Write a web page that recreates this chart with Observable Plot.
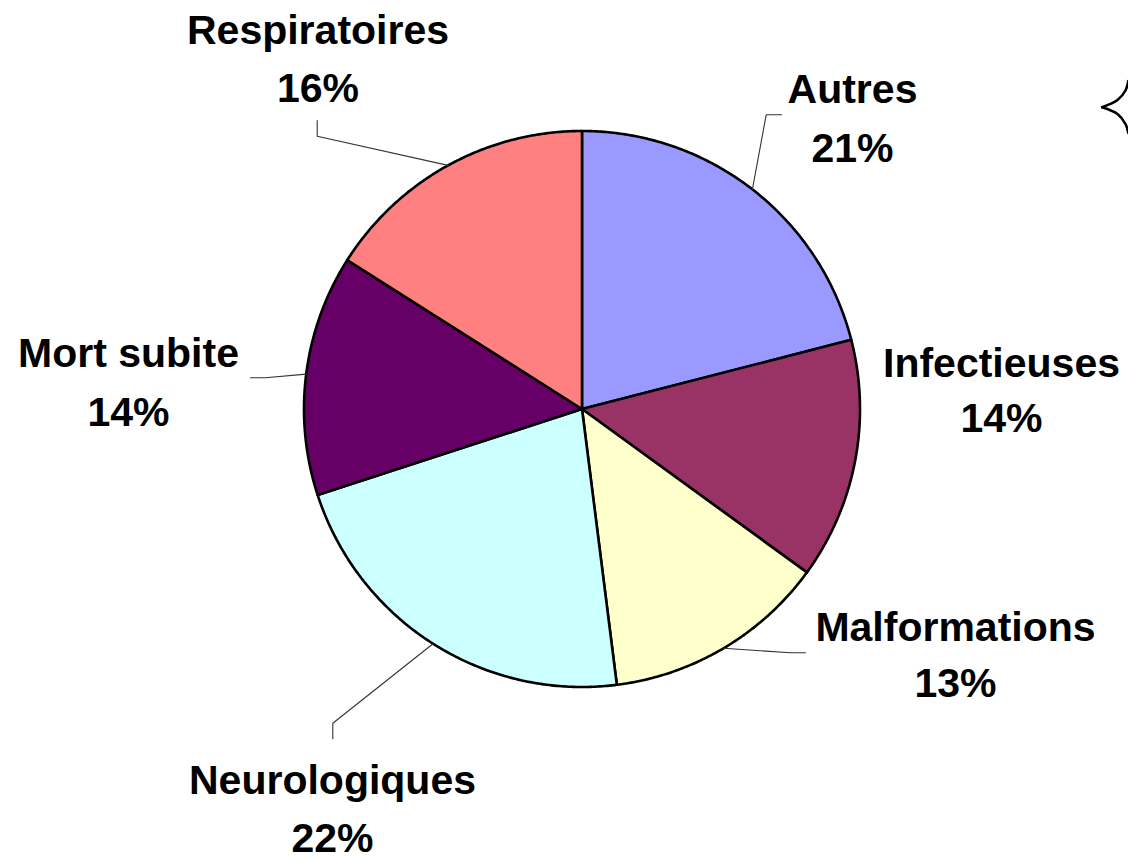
<!DOCTYPE html>
<html><head><meta charset="utf-8">
<script src="https://cdn.jsdelivr.net/npm/d3@7"></script>
<script src="https://cdn.jsdelivr.net/npm/@observablehq/plot@0.6"></script>
<style>body{margin:0;background:#fff}</style>
</head><body><div id="chart"></div>
<script>
// ---- data ----
const categories = ["Autres", "Infectieuses", "Malformations", "Neurologiques", "Mort subite", "Respiratoires"];
const values = [21, 14, 13, 22, 14, 16];
const pctLabels = ["21%", "14%", "13%", "22%", "14%", "16%"];
const colors = ["#9999FF", "#993366", "#FFFFCC", "#CCFFFF", "#660066", "#FF8080"];

// ---- layout (pixels) ----
const W = 1128, H = 859, CX = 581.5, CY = 408.5, R = 278;
const labelX = [852, 1001, 955, 332, 128, 317.5];
const nameY = [102.6, 376.6, 640, 793.4, 366.7, 43.4];
const pctY = [161.6, 431.6, 696.6, 851.7, 425, 101.7];
const leaderElbows = [
  [[781, 114.3], [765.7, 114.3]],
  [],
  [[805, 652.3], [790, 652.3]],
  [[332.3, 738.3], [332.3, 722.7]],
  [[250, 377.3], [265, 377.3]],
  [[316.7, 120], [316.7, 135.7]]
];
const braceArcs = [
  [[1127.8, 80.5], [1125, 90], [1117, 99.5], [1101.7, 106.7]],
  [[1101.7, 106.7], [1117, 113.5], [1125, 123.5], [1127.8, 132.5]]
];

// ---- build geometry from values ----
const arcs = d3.pie().sort(null).value(d => d)(values);
const pt = a => [CX + R * Math.sin(a), CY - R * Math.cos(a)];
const slices = arcs.map((a, i) => {
  const ring = [[CX, CY]];
  const n = Math.max(2, Math.ceil((a.endAngle - a.startAngle) / (Math.PI / 360)));
  for (let k = 0; k <= n; ++k) ring.push(pt(a.startAngle + (a.endAngle - a.startAngle) * k / n));
  ring.push([CX, CY]);
  return {type: "Feature", properties: {name: categories[i]}, geometry: {type: "Polygon", coordinates: [ring]}};
});
const leaders = [];
arcs.forEach((a, i) => {
  if (!leaderElbows[i].length) return;
  const pts = [...leaderElbows[i], pt((a.startAngle + a.endAngle) / 2)];
  pts.forEach(([x, y]) => leaders.push({name: categories[i], x, y}));
});
const labels = categories.map((c, i) => ({name: c, pct: pctLabels[i], x: labelX[i], y1: nameY[i], y2: pctY[i]}));
const brace = braceArcs.flatMap((arc, j) => arc.map(([x, y]) => ({j, x, y})));

const font = "'Liberation Sans', Arial, Helvetica, sans-serif";
const chart = Plot.plot({
  width: W, height: H, margin: 0,
  projection: {type: "identity", domain: {type: "Polygon", coordinates: [[[0, 0], [W, 0], [W, H], [0, H], [0, 0]]]}},
  color: {domain: categories, range: colors},
  style: {background: "#fff", overflow: "visible"},
  marks: [
    Plot.geo(slices, {fill: d => d.properties.name, stroke: "black", strokeWidth: 2.6, strokeLinejoin: "round"}),
    Plot.line(leaders, {x: "x", y: "y", z: "name", stroke: "#333", strokeWidth: 1.1, curve: "linear"}),
    Plot.line(brace, {x: "x", y: "y", z: "j", stroke: "black", strokeWidth: 2.6, curve: "catmull-rom"}),
    Plot.text(labels, {x: "x", y: "y1", text: "name", fontSize: 41, fontWeight: "bold", fontFamily: font, textAnchor: "middle", lineAnchor: "bottom", fill: "black"}),
    Plot.text(labels, {x: "x", y: "y2", text: "pct", fontSize: 41, fontWeight: "bold", fontFamily: font, textAnchor: "middle", lineAnchor: "bottom", fill: "black"})
  ]
});
document.getElementById("chart").appendChild(chart);
</script>
</body></html>
